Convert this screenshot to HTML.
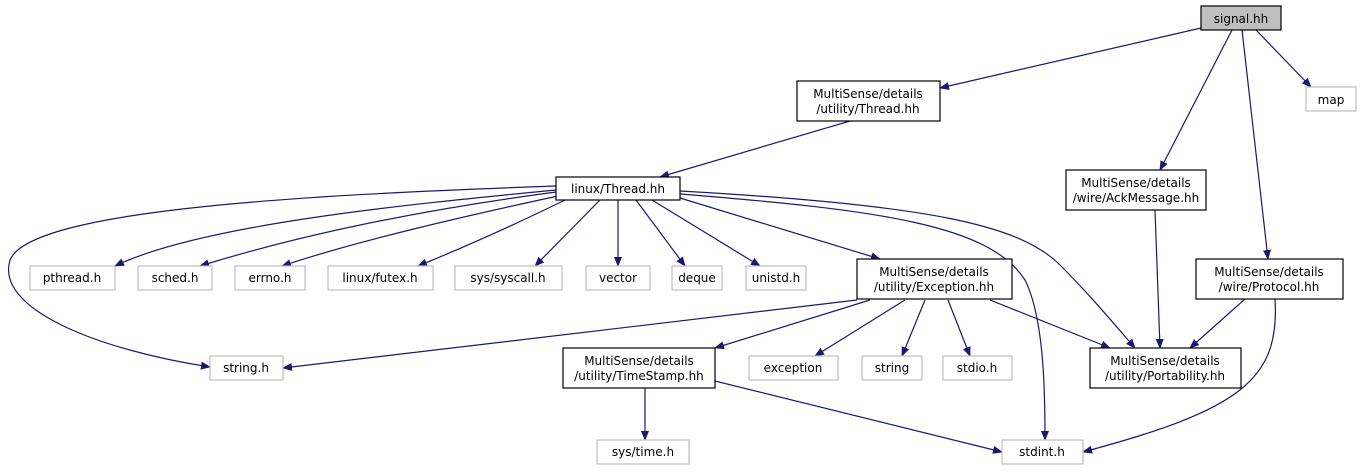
<!DOCTYPE html>
<html><head><meta charset="utf-8"><style>
body{margin:0;background:#fff;}
svg text{font-family:"DejaVu Sans",sans-serif;font-size:12px;fill:#000;text-anchor:middle;}
</style></head><body>
<svg width="1365" height="469" viewBox="0 0 1365 469" xmlns="http://www.w3.org/2000/svg">
<defs><marker id="a" markerWidth="10" markerHeight="8" refX="9" refY="4" orient="auto" markerUnits="userSpaceOnUse"><path d="M0,0 L10,4 L0,8 z" fill="#191970"/></marker></defs>
<g fill="none" stroke="#191970" stroke-width="1.2" marker-end="url(#a)">
<path d="M1201,28 L940,88"/>
<path d="M1256,30 L1311,87"/>
<path d="M1232,30 L1160,170"/>
<path d="M1242,30 L1268,259"/>
<path d="M850,121 L660,177"/>
<path d="M556,190 C400,205 200,225 115,266"/>
<path d="M556,192 C420,210 300,235 200,266"/>
<path d="M558,196 C470,215 360,240 282,266"/>
<path d="M565,200 C520,222 470,245 418,266"/>
<path d="M600,200 L535,266"/>
<path d="M618,200 L618,266"/>
<path d="M636,200 L685,266"/>
<path d="M652,200 L760,266"/>
<path d="M680,198 L880,259"/>
<path d="M556,186 C300,195 30,210 10,260 C-5,310 100,350 210,367"/>
<path d="M680,194 C880,210 990,225 1025,280 C1045,320 1045,400 1045,440"/>
<path d="M680,191 C930,205 1020,225 1060,265 C1090,295 1115,325 1135,348"/>
<path d="M1155,210 L1160,348"/>
<path d="M1245,299 L1190,348"/>
<path d="M1275,299 C1280,380 1240,410 1083,452"/>
<path d="M857,300 L283,368"/>
<path d="M870,300 L715,348"/>
<path d="M905,300 L815,356"/>
<path d="M925,300 L902,356"/>
<path d="M948,300 L970,356"/>
<path d="M990,300 L1110,348"/>
<path d="M645,388 L645,440"/>
<path d="M715,381 L1002,452"/>
</g>
<g stroke="#000" stroke-width="1.2" fill="#fff">
<rect x="1201" y="6" width="80" height="24" fill="#bfbfbf"/>
<rect x="797" y="81" width="143" height="40"/>
<rect x="556" y="177" width="124" height="23"/>
<rect x="1066" y="170" width="140" height="40"/>
<rect x="1196" y="259" width="147" height="40"/>
<rect x="857" y="259" width="155" height="40"/>
<rect x="1090" y="348" width="151" height="40"/>
<rect x="563" y="348" width="152" height="40"/>
</g>
<g stroke="#bfbfbf" stroke-width="1.2" fill="#fff">
<rect x="1306" y="87" width="50" height="24"/>
<rect x="30" y="266" width="85" height="24"/>
<rect x="138" y="266" width="74" height="24"/>
<rect x="235" y="266" width="70" height="24"/>
<rect x="328" y="266" width="105" height="24"/>
<rect x="455" y="266" width="107" height="24"/>
<rect x="586" y="266" width="64" height="24"/>
<rect x="672" y="266" width="50" height="24"/>
<rect x="746" y="266" width="60" height="24"/>
<rect x="210" y="356" width="73" height="24"/>
<rect x="749" y="356" width="89" height="24"/>
<rect x="862" y="356" width="60" height="24"/>
<rect x="943" y="356" width="69" height="24"/>
<rect x="597" y="440" width="92" height="24"/>
<rect x="1002" y="440" width="81" height="24"/>
</g>
<text x="1241" y="23">signal.hh</text>
<text x="1331" y="104">map</text>
<text x="868" y="98">MultiSense/details</text><text x="868" y="113">/utility/Thread.hh</text>
<text x="618" y="193">linux/Thread.hh</text>
<text x="1136" y="187">MultiSense/details</text><text x="1136" y="202">/wire/AckMessage.hh</text>
<text x="1269" y="276">MultiSense/details</text><text x="1269" y="291">/wire/Protocol.hh</text>
<text x="934" y="276">MultiSense/details</text><text x="934" y="291">/utility/Exception.hh</text>
<text x="1165" y="365">MultiSense/details</text><text x="1165" y="380">/utility/Portability.hh</text>
<text x="639" y="365">MultiSense/details</text><text x="639" y="380">/utility/TimeStamp.hh</text>
<text x="72" y="282">pthread.h</text>
<text x="175" y="282">sched.h</text>
<text x="270" y="282">errno.h</text>
<text x="380" y="282">linux/futex.h</text>
<text x="508" y="282">sys/syscall.h</text>
<text x="618" y="282">vector</text>
<text x="697" y="282">deque</text>
<text x="776" y="282">unistd.h</text>
<text x="246" y="372">string.h</text>
<text x="793" y="372">exception</text>
<text x="892" y="372">string</text>
<text x="977" y="372">stdio.h</text>
<text x="643" y="456">sys/time.h</text>
<text x="1042" y="456">stdint.h</text>
</svg>
</body></html>
